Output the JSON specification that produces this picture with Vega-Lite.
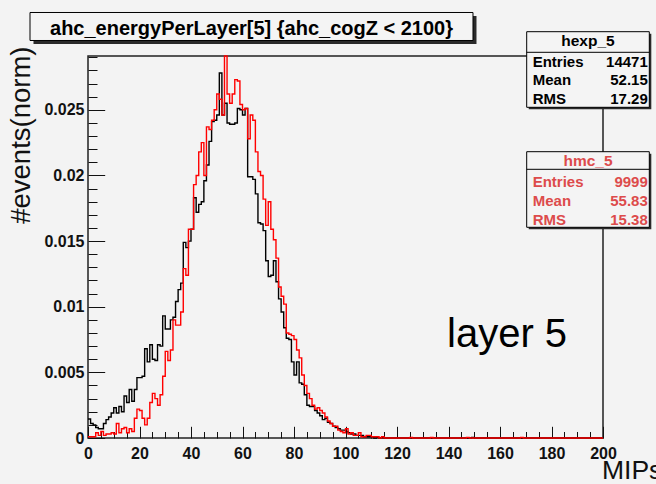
{
  "$schema": "https://vega.github.io/schema/vega-lite/v6.json",
  "autosize": {"type": "none"},
  "padding": {"left": 88, "top": 56, "right": 53, "bottom": 46},
  "width": 515,
  "height": 382,
  "background": "#f3f3f3",
  "config": {
    "font": "Liberation Sans",
    "view": {"stroke": "#222", "strokeWidth": 1.5, "fill": "#f3f3f3"}
  },
  "data": {
    "values": [
      {"x": 0, "hexp": 0.00145, "hmc": 0.0001},
      {"x": 1, "hexp": 0.0011, "hmc": 0.0001},
      {"x": 2, "hexp": 0.001, "hmc": 0.0001},
      {"x": 3, "hexp": 0.0008, "hmc": 0.0004},
      {"x": 4, "hexp": 0.0007, "hmc": 0.0002},
      {"x": 5, "hexp": 0.0007, "hmc": 0.0005},
      {"x": 6, "hexp": 0.0011, "hmc": 0.0002},
      {"x": 7, "hexp": 0.0014, "hmc": 0.0003},
      {"x": 8, "hexp": 0.0016, "hmc": 0.0003},
      {"x": 9, "hexp": 0.0019, "hmc": 0.0004},
      {"x": 10, "hexp": 0.0023, "hmc": 0.0003},
      {"x": 11, "hexp": 0.0019, "hmc": 0.0011},
      {"x": 12, "hexp": 0.0024, "hmc": 0.0004},
      {"x": 13, "hexp": 0.002, "hmc": 0.0007},
      {"x": 14, "hexp": 0.0032, "hmc": 0.0008},
      {"x": 15, "hexp": 0.0027, "hmc": 0.0004},
      {"x": 16, "hexp": 0.0037, "hmc": 0.0007},
      {"x": 17, "hexp": 0.0028, "hmc": 0.0005},
      {"x": 18, "hexp": 0.0037, "hmc": 0.0015},
      {"x": 19, "hexp": 0.0046, "hmc": 0.0022},
      {"x": 20, "hexp": 0.0046, "hmc": 0.0021},
      {"x": 21, "hexp": 0.0047, "hmc": 0.0015},
      {"x": 22, "hexp": 0.0068, "hmc": 0.001},
      {"x": 23, "hexp": 0.0058, "hmc": 0.0015},
      {"x": 24, "hexp": 0.0071, "hmc": 0.0027},
      {"x": 25, "hexp": 0.006, "hmc": 0.0034},
      {"x": 26, "hexp": 0.0059, "hmc": 0.003},
      {"x": 27, "hexp": 0.0071, "hmc": 0.0025},
      {"x": 28, "hexp": 0.007, "hmc": 0.0033},
      {"x": 29, "hexp": 0.0093, "hmc": 0.0047},
      {"x": 30, "hexp": 0.0083, "hmc": 0.0066},
      {"x": 31, "hexp": 0.0083, "hmc": 0.0059},
      {"x": 32, "hexp": 0.009, "hmc": 0.0067},
      {"x": 33, "hexp": 0.0092, "hmc": 0.009},
      {"x": 34, "hexp": 0.0104, "hmc": 0.0086},
      {"x": 35, "hexp": 0.0113, "hmc": 0.0086},
      {"x": 36, "hexp": 0.0118, "hmc": 0.0096},
      {"x": 37, "hexp": 0.0149, "hmc": 0.0129},
      {"x": 38, "hexp": 0.0145, "hmc": 0.0124},
      {"x": 39, "hexp": 0.015, "hmc": 0.0159},
      {"x": 40, "hexp": 0.0159, "hmc": 0.0159},
      {"x": 41, "hexp": 0.0183, "hmc": 0.0193},
      {"x": 42, "hexp": 0.0172, "hmc": 0.02},
      {"x": 43, "hexp": 0.0178, "hmc": 0.0218},
      {"x": 44, "hexp": 0.018, "hmc": 0.0225},
      {"x": 45, "hexp": 0.0196, "hmc": 0.02},
      {"x": 46, "hexp": 0.0208, "hmc": 0.0237},
      {"x": 47, "hexp": 0.0226, "hmc": 0.0235},
      {"x": 48, "hexp": 0.0241, "hmc": 0.0242},
      {"x": 49, "hexp": 0.0242, "hmc": 0.025},
      {"x": 50, "hexp": 0.0246, "hmc": 0.0262},
      {"x": 51, "hexp": 0.0278, "hmc": 0.0258},
      {"x": 52, "hexp": 0.0246, "hmc": 0.0246},
      {"x": 53, "hexp": 0.0255, "hmc": 0.0291},
      {"x": 54, "hexp": 0.024, "hmc": 0.0262},
      {"x": 55, "hexp": 0.0239, "hmc": 0.0255},
      {"x": 56, "hexp": 0.0239, "hmc": 0.0262},
      {"x": 57, "hexp": 0.024, "hmc": 0.0273},
      {"x": 58, "hexp": 0.0251, "hmc": 0.0272},
      {"x": 59, "hexp": 0.025, "hmc": 0.0254},
      {"x": 60, "hexp": 0.0246, "hmc": 0.025},
      {"x": 61, "hexp": 0.0251, "hmc": 0.0251},
      {"x": 62, "hexp": 0.0199, "hmc": 0.0228},
      {"x": 63, "hexp": 0.0199, "hmc": 0.0246},
      {"x": 64, "hexp": 0.0197, "hmc": 0.0242},
      {"x": 65, "hexp": 0.0186, "hmc": 0.0218},
      {"x": 66, "hexp": 0.0164, "hmc": 0.0203},
      {"x": 67, "hexp": 0.0163, "hmc": 0.02},
      {"x": 68, "hexp": 0.0158, "hmc": 0.0182},
      {"x": 69, "hexp": 0.0135, "hmc": 0.0162},
      {"x": 70, "hexp": 0.0123, "hmc": 0.018},
      {"x": 71, "hexp": 0.0124, "hmc": 0.0159},
      {"x": 72, "hexp": 0.0135, "hmc": 0.0151},
      {"x": 73, "hexp": 0.0119, "hmc": 0.0137},
      {"x": 74, "hexp": 0.0106, "hmc": 0.0115},
      {"x": 75, "hexp": 0.0096, "hmc": 0.0108},
      {"x": 76, "hexp": 0.0084, "hmc": 0.0102},
      {"x": 77, "hexp": 0.0076, "hmc": 0.008},
      {"x": 78, "hexp": 0.0075, "hmc": 0.0079},
      {"x": 79, "hexp": 0.0058, "hmc": 0.0078},
      {"x": 80, "hexp": 0.0048, "hmc": 0.0075},
      {"x": 81, "hexp": 0.0058, "hmc": 0.0067},
      {"x": 82, "hexp": 0.0042, "hmc": 0.0061},
      {"x": 83, "hexp": 0.0041, "hmc": 0.0048},
      {"x": 84, "hexp": 0.0033, "hmc": 0.004},
      {"x": 85, "hexp": 0.0025, "hmc": 0.0034},
      {"x": 86, "hexp": 0.0024, "hmc": 0.003},
      {"x": 87, "hexp": 0.0024, "hmc": 0.0025},
      {"x": 88, "hexp": 0.0021, "hmc": 0.0022},
      {"x": 89, "hexp": 0.0019, "hmc": 0.0023},
      {"x": 90, "hexp": 0.0017, "hmc": 0.0021},
      {"x": 91, "hexp": 0.0014, "hmc": 0.0019},
      {"x": 92, "hexp": 0.0015, "hmc": 0.0016},
      {"x": 93, "hexp": 0.0012, "hmc": 0.0013},
      {"x": 94, "hexp": 0.0011, "hmc": 0.0011},
      {"x": 95, "hexp": 0.0009, "hmc": 0.0009},
      {"x": 96, "hexp": 0.0008, "hmc": 0.0009},
      {"x": 97, "hexp": 0.0007, "hmc": 0.0006},
      {"x": 98, "hexp": 0.0006, "hmc": 0.0005},
      {"x": 99, "hexp": 0.0006, "hmc": 0.0004},
      {"x": 100, "hexp": 0.0005, "hmc": 0.0007},
      {"x": 101, "hexp": 0.0004, "hmc": 0.0003},
      {"x": 102, "hexp": 0.0003, "hmc": 0.0004},
      {"x": 103, "hexp": 0.0003, "hmc": 0.0002},
      {"x": 104, "hexp": 0.0002, "hmc": 0.0002},
      {"x": 105, "hexp": 0.0002, "hmc": 0.0004},
      {"x": 106, "hexp": 0.0002, "hmc": 0.0001},
      {"x": 107, "hexp": 0.0001, "hmc": 0.0001},
      {"x": 108, "hexp": 0.0001, "hmc": 0.0002},
      {"x": 109, "hexp": 0.0001, "hmc": 0.0002},
      {"x": 110, "hexp": 0.0001, "hmc": 0.0001},
      {"x": 111, "hexp": 0, "hmc": 0.0001},
      {"x": 112, "hexp": 0.00005, "hmc": 0.0001},
      {"x": 113, "hexp": 0, "hmc": 0},
      {"x": 114, "hexp": 0.00003, "hmc": 0.0001},
      {"x": 115, "hexp": 0, "hmc": 0},
      {"x": 116, "hexp": 0, "hmc": 0},
      {"x": 117, "hexp": 0, "hmc": 0},
      {"x": 118, "hexp": 0, "hmc": 0},
      {"x": 119, "hexp": 0, "hmc": 0},
      {"x": 120, "hexp": 0, "hmc": 0},
      {"x": 121, "hexp": 0, "hmc": 0},
      {"x": 122, "hexp": 0, "hmc": 0},
      {"x": 123, "hexp": 0, "hmc": 0},
      {"x": 124, "hexp": 0, "hmc": 0},
      {"x": 125, "hexp": 0, "hmc": 0.00004},
      {"x": 126, "hexp": 0, "hmc": 0},
      {"x": 127, "hexp": 0, "hmc": 0},
      {"x": 128, "hexp": 0, "hmc": 0},
      {"x": 129, "hexp": 0, "hmc": 0},
      {"x": 130, "hexp": 0, "hmc": 0},
      {"x": 131, "hexp": 0, "hmc": 0},
      {"x": 132, "hexp": 0, "hmc": 0},
      {"x": 133, "hexp": 0, "hmc": 0.00004},
      {"x": 134, "hexp": 0, "hmc": 0},
      {"x": 135, "hexp": 0, "hmc": 0},
      {"x": 136, "hexp": 0, "hmc": 0},
      {"x": 137, "hexp": 0, "hmc": 0},
      {"x": 138, "hexp": 0, "hmc": 0},
      {"x": 139, "hexp": 0, "hmc": 0},
      {"x": 140, "hexp": 0, "hmc": 0},
      {"x": 141, "hexp": 0, "hmc": 0},
      {"x": 142, "hexp": 0, "hmc": 0},
      {"x": 143, "hexp": 0, "hmc": 0},
      {"x": 144, "hexp": 0, "hmc": 0},
      {"x": 145, "hexp": 0, "hmc": 0},
      {"x": 146, "hexp": 0, "hmc": 0},
      {"x": 147, "hexp": 0, "hmc": 0.00005},
      {"x": 148, "hexp": 0, "hmc": 0},
      {"x": 149, "hexp": 0.00004, "hmc": 0},
      {"x": 150, "hexp": 0, "hmc": 0},
      {"x": 151, "hexp": 0, "hmc": 0},
      {"x": 152, "hexp": 0, "hmc": 0},
      {"x": 153, "hexp": 0, "hmc": 0},
      {"x": 154, "hexp": 0, "hmc": 0},
      {"x": 155, "hexp": 0, "hmc": 0},
      {"x": 156, "hexp": 0, "hmc": 0},
      {"x": 157, "hexp": 0, "hmc": 0},
      {"x": 158, "hexp": 0, "hmc": 0},
      {"x": 159, "hexp": 0, "hmc": 0},
      {"x": 160, "hexp": 0, "hmc": 0},
      {"x": 161, "hexp": 0, "hmc": 0},
      {"x": 162, "hexp": 0, "hmc": 0},
      {"x": 163, "hexp": 0, "hmc": 0},
      {"x": 164, "hexp": 0, "hmc": 0},
      {"x": 165, "hexp": 0, "hmc": 0},
      {"x": 166, "hexp": 0, "hmc": 0},
      {"x": 167, "hexp": 0, "hmc": 0},
      {"x": 168, "hexp": 0, "hmc": 0.00005},
      {"x": 169, "hexp": 0, "hmc": 0},
      {"x": 170, "hexp": 0, "hmc": 0},
      {"x": 171, "hexp": 0, "hmc": 0},
      {"x": 172, "hexp": 0, "hmc": 0},
      {"x": 173, "hexp": 0, "hmc": 0},
      {"x": 174, "hexp": 0, "hmc": 0},
      {"x": 175, "hexp": 0, "hmc": 0},
      {"x": 176, "hexp": 0, "hmc": 0},
      {"x": 177, "hexp": 0, "hmc": 0},
      {"x": 178, "hexp": 0, "hmc": 0},
      {"x": 179, "hexp": 0, "hmc": 0},
      {"x": 180, "hexp": 0, "hmc": 0},
      {"x": 181, "hexp": 0, "hmc": 0},
      {"x": 182, "hexp": 0, "hmc": 0},
      {"x": 183, "hexp": 0, "hmc": 0},
      {"x": 184, "hexp": 0, "hmc": 0},
      {"x": 185, "hexp": 0, "hmc": 0},
      {"x": 186, "hexp": 0, "hmc": 0},
      {"x": 187, "hexp": 0, "hmc": 0},
      {"x": 188, "hexp": 0, "hmc": 0},
      {"x": 189, "hexp": 0, "hmc": 0},
      {"x": 190, "hexp": 0, "hmc": 0},
      {"x": 191, "hexp": 0, "hmc": 0},
      {"x": 192, "hexp": 0, "hmc": 0},
      {"x": 193, "hexp": 0, "hmc": 0},
      {"x": 194, "hexp": 0, "hmc": 0},
      {"x": 195, "hexp": 0, "hmc": 0},
      {"x": 196, "hexp": 0, "hmc": 0},
      {"x": 197, "hexp": 0, "hmc": 0},
      {"x": 198, "hexp": 0, "hmc": 0},
      {"x": 199, "hexp": 0, "hmc": 0},
      {"x": 200, "hexp": 0, "hmc": 0}
    ]
  },
  "layer": [
    {
      "mark": {"type": "line", "interpolate": "step-after", "color": "#000000", "strokeWidth": 1.4},
      "encoding": {
        "x": {
          "field": "x", "type": "quantitative",
          "scale": {"domain": [0, 200], "nice": false, "zero": false},
          "axis": {
            "values": [0,5,10,15,20,25,30,35,40,45,50,55,60,65,70,75,80,85,90,95,100,105,110,115,120,125,130,135,140,145,150,155,160,165,170,175,180,185,190,195,200],
            "tickCount": 100,
            "format": "d",
            "labelExpr": "round(datum.value) % 20 == 0 ? datum.label : ''",
            "tickSize": {"condition": {"test": "round(datum.value) % 20 == 0", "value": -11.7}, "value": -6.5},
            "tickColor": "#111", "tickWidth": 1,
            "domain": false, "grid": false,
            "labelOverlap": false, "labelFlush": false, "labelBound": false,
            "labelPadding": 19, "labelFontSize": 16, "labelFontWeight": "bold", "labelColor": "#111",
            "title": "MIPs", "titleFontSize": 26.5, "titleFontWeight": "normal", "titleColor": "#111",
            "titleAlign": "left", "titleBaseline": "alphabetic", "titleX": 513.5, "titleY": 40.7
          }
        },
        "y": {
          "field": "hexp", "type": "quantitative",
          "scale": {"domain": [0, 0.0291], "nice": false, "zero": true},
          "axis": {
            "values": [0,0.001,0.002,0.003,0.004,0.005,0.006,0.007,0.008,0.009,0.01,0.011,0.012,0.013,0.014,0.015,0.016,0.017,0.018,0.019,0.02,0.021,0.022,0.023,0.024,0.025,0.026,0.027,0.028,0.029],
            "tickCount": 100,
            "format": "~g",
            "labelExpr": "round(datum.value*1000) % 5 == 0 ? datum.label : ''",
            "tickSize": {"condition": {"test": "round(datum.value*1000) % 5 == 0", "value": -16.7}, "value": -9},
            "tickColor": "#111", "tickWidth": 1,
            "domain": false, "grid": false,
            "labelOverlap": false, "labelFlush": false, "labelBound": false,
            "labelPadding": 20.7, "labelFontSize": 16, "labelFontWeight": "bold", "labelColor": "#111",
            "title": "#events(norm)", "titleFontSize": 27.5, "titleFontWeight": "normal", "titleColor": "#111",
            "titleAngle": -90, "titleAlign": "right", "titleBaseline": "alphabetic", "titleX": -59, "titleY": -10
          }
        }
      }
    },
    {
      "mark": {"type": "line", "interpolate": "step-after", "color": "#ff0000", "strokeWidth": 1.4},
      "encoding": {
        "x": {"field": "x", "type": "quantitative"},
        "y": {"field": "hmc", "type": "quantitative"}
      }
    },
    {
      "data": {"values": [{}]},
      "mark": {"type": "text", "text": "layer 5", "fontSize": 40, "align": "left", "baseline": "alphabetic", "color": "#000"},
      "encoding": {
        "x": {"datum": 139.42, "type": "quantitative"},
        "y": {"datum": 0.00693, "type": "quantitative"}
      }
    },
    {
      "data": {"values": [{}]},
      "mark": {"type": "rect", "fill": "#2a2a2a"},
      "encoding": {
        "x": {"datum": -21.17, "type": "quantitative"}, "x2": {"datum": 150.87},
        "y": {"datum": 0.032147, "type": "quantitative"}, "y2": {"datum": 0.030014}
      }
    },
    {
      "data": {"values": [{}]},
      "mark": {"type": "rect", "fill": "#f4f4f4", "stroke": "#000", "strokeWidth": 1},
      "encoding": {
        "x": {"datum": -22.52, "type": "quantitative"}, "x2": {"datum": 149.51},
        "y": {"datum": 0.032414, "type": "quantitative"}, "y2": {"datum": 0.030281}
      }
    },
    {
      "data": {"values": [{}]},
      "mark": {"type": "text", "text": "ahc_energyPerLayer[5] {ahc_cogZ < 2100}", "fontSize": 20, "fontWeight": "bold", "align": "center", "baseline": "alphabetic", "color": "#000"},
      "encoding": {
        "x": {"datum": 63.5, "type": "quantitative"},
        "y": {"datum": 0.030662, "type": "quantitative"}
      }
    },
    {
      "data": {"values": [{}]},
      "mark": {"type": "rect", "fill": "#2a2a2a"},
      "encoding": {
        "x": {"datum": 171.15, "type": "quantitative"}, "x2": {"datum": 218.76},
        "y": {"datum": 0.030799, "type": "quantitative"}, "y2": {"datum": 0.02504}
      }
    },
    {
      "data": {"values": [{}]},
      "mark": {"type": "rect", "fill": "#f4f4f4", "stroke": "#000", "strokeWidth": 1},
      "encoding": {
        "x": {"datum": 170.37, "type": "quantitative"}, "x2": {"datum": 217.98},
        "y": {"datum": 0.030951, "type": "quantitative"}, "y2": {"datum": 0.025192}
      }
    },
    {
      "data": {"values": [{}]},
      "mark": {"type": "rule", "color": "#000", "strokeWidth": 1},
      "encoding": {
        "x": {"datum": 170.37, "type": "quantitative"}, "x2": {"datum": 217.98},
        "y": {"datum": 0.029382, "type": "quantitative"}
      }
    },
    {
      "data": {"values": [{}]},
      "mark": {"type": "text", "text": "hexp_5", "fontSize": 15.5, "fontWeight": "bold", "align": "center", "baseline": "alphabetic", "color": "#000"},
      "encoding": {
        "x": {"datum": 194.17, "type": "quantitative"},
        "y": {"datum": 0.029862, "type": "quantitative"}
      }
    },
    {
      "data": {"values": [{}]},
      "mark": {"type": "text", "text": ["Entries", "Mean", "RMS"], "lineHeight": 18.7, "fontSize": 15, "fontWeight": "bold", "align": "left", "baseline": "alphabetic", "color": "#000"},
      "encoding": {
        "x": {"datum": 172.7, "type": "quantitative"},
        "y": {"datum": 0.028285, "type": "quantitative"}
      }
    },
    {
      "data": {"values": [{}]},
      "mark": {"type": "text", "text": ["14471", "52.15", "17.29"], "lineHeight": 18.7, "fontSize": 15, "fontWeight": "bold", "align": "right", "baseline": "alphabetic", "color": "#000"},
      "encoding": {
        "x": {"datum": 217.4, "type": "quantitative"},
        "y": {"datum": 0.028285, "type": "quantitative"}
      }
    },
    {
      "data": {"values": [{}]},
      "mark": {"type": "rect", "fill": "#2a2a2a"},
      "encoding": {
        "x": {"datum": 171.15, "type": "quantitative"}, "x2": {"datum": 218.76},
        "y": {"datum": 0.021658, "type": "quantitative"}, "y2": {"datum": 0.015899}
      }
    },
    {
      "data": {"values": [{}]},
      "mark": {"type": "rect", "fill": "#f4f4f4", "stroke": "#000", "strokeWidth": 1},
      "encoding": {
        "x": {"datum": 170.37, "type": "quantitative"}, "x2": {"datum": 217.98},
        "y": {"datum": 0.02181, "type": "quantitative"}, "y2": {"datum": 0.016051}
      }
    },
    {
      "data": {"values": [{}]},
      "mark": {"type": "rule", "color": "#000", "strokeWidth": 1},
      "encoding": {
        "x": {"datum": 170.37, "type": "quantitative"}, "x2": {"datum": 217.98},
        "y": {"datum": 0.020469, "type": "quantitative"}
      }
    },
    {
      "data": {"values": [{}]},
      "mark": {"type": "text", "text": "hmc_5", "fontSize": 15.5, "fontWeight": "bold", "align": "center", "baseline": "alphabetic", "color": "#dd4b4b"},
      "encoding": {
        "x": {"datum": 194.17, "type": "quantitative"},
        "y": {"datum": 0.020721, "type": "quantitative"}
      }
    },
    {
      "data": {"values": [{}]},
      "mark": {"type": "text", "text": ["Entries", "Mean", "RMS"], "lineHeight": 19, "fontSize": 15, "fontWeight": "bold", "align": "left", "baseline": "alphabetic", "color": "#dd4b4b"},
      "encoding": {
        "x": {"datum": 172.7, "type": "quantitative"},
        "y": {"datum": 0.019144, "type": "quantitative"}
      }
    },
    {
      "data": {"values": [{}]},
      "mark": {"type": "text", "text": ["9999", "55.83", "15.38"], "lineHeight": 19, "fontSize": 15, "fontWeight": "bold", "align": "right", "baseline": "alphabetic", "color": "#dd4b4b"},
      "encoding": {
        "x": {"datum": 217.4, "type": "quantitative"},
        "y": {"datum": 0.019144, "type": "quantitative"}
      }
    }
  ]
}
